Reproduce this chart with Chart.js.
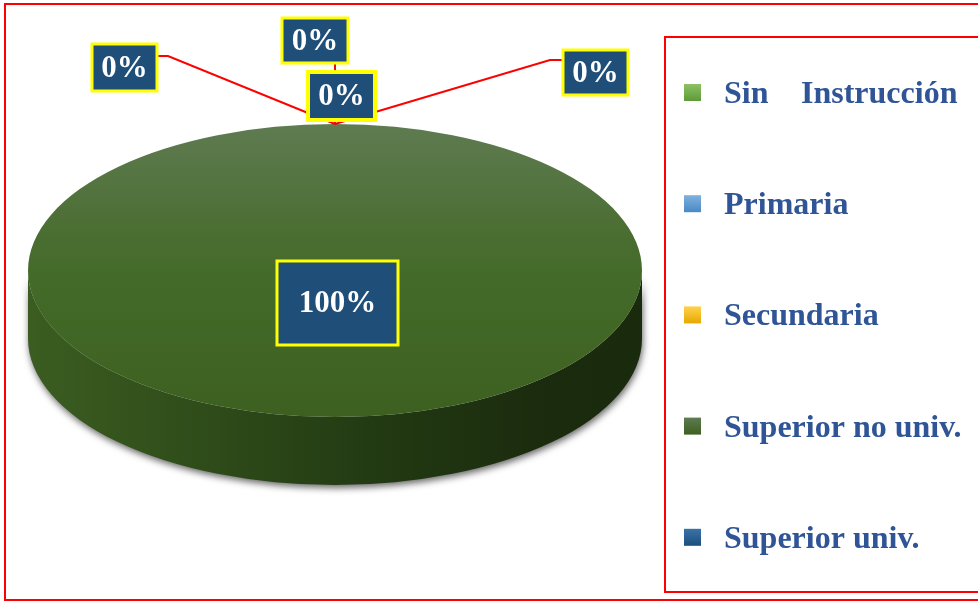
<!DOCTYPE html>
<html>
<head>
<meta charset="utf-8">
<script src="https://cdn.jsdelivr.net/npm/chart.js@4/dist/chart.umd.min.js"></script>
<style>
  html, body { margin: 0; padding: 0; background: #ffffff; overflow: hidden; }
  canvas { display: block; }
</style>
</head>
<body>
<canvas id="pie" width="978" height="602"></canvas>
<script>
// Nivel de instrucción (porcentaje de encuestados)
const categories = ['Sin Instrucción', 'Primaria', 'Secundaria', 'Superior no univ.', 'Superior univ.'];
const percentages = [0, 0, 0, 100, 0];

// Face colours per category: [top, bottom] of the lit upper face
const faceColors = [
  ['#8cc265', '#5e9a37'],
  ['#7fb2e0', '#4a88c4'],
  ['#ffd24d', '#e6a800'],
  ['#5f7b51', '#3d6020'],
  ['#3a73a8', '#1d4e7c']
];
// Side (rim) colours per category: [left, right] across the rim
const rimColors = [
  ['#4f8a2a', '#2c4d16'],
  ['#3d74a8', '#1f4466'],
  ['#d99e00', '#7a5900'],
  ['#3b5d21', '#1a2a0d'],
  ['#1f4e7c', '#0f2a44']
];

const FONT = '"Liberation Serif", "Times New Roman", serif';
const TILT = {stretch: 307 / 146.5, depth: 68};

// Where each data label box sits, and how its leader line leaves it
const labelLayout = [
  {cx: 124.5, cy: 67.5, w: 65, h: 47, bw: 3, leader: [[157, 56], [168, 56]]},
  {cx: 315,   cy: 40.5, w: 66, h: 45, bw: 3, leader: [[335, 63]]},
  {cx: 341.5, cy: 96,   w: 67, h: 48, bw: 4, leader: null},
  {cx: 337.5, cy: 303,  w: 121, h: 84, bw: 3, leader: null},
  {cx: 595.5, cy: 72.5, w: 65, h: 45, bw: 3, leader: [[563, 60], [550, 60]]}
];

function arcGeometry(chart) {
  const arc = chart.getDatasetMeta(0).data[0];
  return {cx: arc.x, cy: arc.y, r: arc.outerRadius, rx: arc.outerRadius * TILT.stretch};
}

function faceFill(context) {
  const chart = context.chart;
  const i = context.dataIndex;
  const area = chart.chartArea;
  if (!area) return faceColors[i][1];
  const top = area.top, bottom = area.bottom;
  const g = chart.ctx.createLinearGradient(0, top, 0, bottom);
  g.addColorStop(0, faceColors[i][0]);
  g.addColorStop(0.4, i === 3 ? '#496d30' : faceColors[i][0]);
  g.addColorStop(0.55, i === 3 ? '#436a28' : faceColors[i][1]);
  g.addColorStop(1, faceColors[i][1]);
  return g;
}

// Gives the pie its tilted, raised look: rim first, then the face squashed into an ellipse
const tiltPlugin = {
  id: 'tilt',
  beforeDatasetsDraw(chart) {
    const ctx = chart.ctx;
    const meta = chart.getDatasetMeta(0);
    const {cx, cy, r, rx} = arcGeometry(chart);
    const d = TILT.depth;
    meta.data.forEach((arc, i) => {
      const a = arc.startAngle, b = arc.endAngle;
      if (b - a <= 0) return;
      for (let k = -1; k <= 1; k++) {
        const s = Math.max(a, 2 * Math.PI * k), e = Math.min(b, 2 * Math.PI * k + Math.PI);
        if (e <= s) continue;
        ctx.save();
        ctx.beginPath();
        ctx.ellipse(cx, cy + d, rx, r, 0, s, e, false);
        ctx.ellipse(cx, cy, rx, r, 0, e, s, true);
        ctx.closePath();
        const g = ctx.createLinearGradient(cx - rx, 0, cx + rx, 0);
        const c = rimColors[i];
        if (i === 3) {
          g.addColorStop(0, '#3b5d21');
          g.addColorStop(0.3, '#2e4b19');
          g.addColorStop(0.6, '#213812');
          g.addColorStop(0.85, '#1b2b0e');
          g.addColorStop(1, '#1a2a0d');
        } else {
          g.addColorStop(0, c[0]);
          g.addColorStop(1, c[1]);
        }
        ctx.fillStyle = g;
        ctx.shadowColor = 'rgba(0,0,0,0.6)';
        ctx.shadowBlur = 7;
        ctx.shadowOffsetX = 1;
        ctx.shadowOffsetY = 3;
        ctx.fill();
        ctx.restore();
      }
    });
    ctx.save();
    ctx.translate(cx, cy);
    ctx.scale(TILT.stretch, 1);
    ctx.translate(-cx, -cy);
  },
  afterDatasetsDraw(chart) {
    chart.ctx.restore();
  }
};

// Frames, legend and data labels with their leader lines
const decorPlugin = {
  id: 'decor',
  afterDraw(chart) {
    const ctx = chart.ctx;
    const meta = chart.getDatasetMeta(0);
    const {cx, cy, r, rx} = arcGeometry(chart);

    // outer frame and legend frame
    ctx.save();
    ctx.strokeStyle = '#ff0000';
    ctx.lineWidth = 2;
    ctx.strokeRect(5, 4, 990, 596);
    ctx.strokeRect(665, 37, 330, 555);
    ctx.restore();

    // legend
    ctx.save();
    categories.forEach((name, i) => {
      const yc = 92.5 + i * 111.2;
      const g = ctx.createLinearGradient(0, yc - 8.5, 0, yc + 8.5);
      g.addColorStop(0, faceColors[i][0]);
      g.addColorStop(1, faceColors[i][1]);
      ctx.fillStyle = g;
      ctx.fillRect(684, yc - 8.5, 17, 17);
      ctx.fillStyle = '#2f5597';
      ctx.font = 'bold 32px ' + FONT;
      ctx.textBaseline = 'alphabetic';
      ctx.textAlign = 'left';
      if (i === 0) {
        // justified two-word entry
        const words = name.split(' ');
        ctx.fillText(words[0], 724, yc + 10.5);
        ctx.fillText(words[1], 801, yc + 10.5);
      } else {
        ctx.fillText(name, 724, yc + 10.5);
      }
    });
    ctx.restore();

    // leader lines to the slice edges
    ctx.save();
    ctx.strokeStyle = '#ff0000';
    ctx.lineWidth = 2;
    meta.data.forEach((arc, i) => {
      const L = labelLayout[i];
      if (!L.leader) return;
      const ang = arc.startAngle;
      const px = cx + Math.cos(ang) * rx;
      const py = cy + Math.sin(ang) * r;
      ctx.beginPath();
      ctx.moveTo(L.leader[0][0], L.leader[0][1]);
      for (let k = 1; k < L.leader.length; k++) ctx.lineTo(L.leader[k][0], L.leader[k][1]);
      ctx.lineTo(px, py);
      ctx.stroke();
    });
    ctx.restore();

    // label boxes
    ctx.save();
    percentages.forEach((v, i) => {
      const L = labelLayout[i];
      const x = L.cx - L.w / 2, y = L.cy - L.h / 2;
      ctx.fillStyle = '#1f4e79';
      ctx.fillRect(x, y, L.w, L.h);
      ctx.strokeStyle = '#ffff00';
      ctx.lineWidth = L.bw;
      ctx.strokeRect(x, y, L.w, L.h);
      ctx.fillStyle = '#ffffff';
      ctx.font = 'bold 31px ' + FONT;
      ctx.textAlign = 'center';
      ctx.textBaseline = 'middle';
      ctx.fillText(v + '%', L.cx, L.cy + 1);
    });
    ctx.restore();
  }
};

new Chart(document.getElementById('pie'), {
  type: 'pie',
  data: {
    labels: categories,
    datasets: [{
      data: percentages,
      backgroundColor: faceFill,
      borderWidth: 0,
      hoverOffset: 0,
      clip: false
    }]
  },
  options: {
    responsive: false,
    animation: false,
    events: [],
    layout: {padding: {left: 28, right: 336, top: 124, bottom: 185}},
    plugins: {legend: {display: false}, tooltip: {enabled: false}}
  },
  plugins: [tiltPlugin, decorPlugin]
});
</script>
</body>
</html>
